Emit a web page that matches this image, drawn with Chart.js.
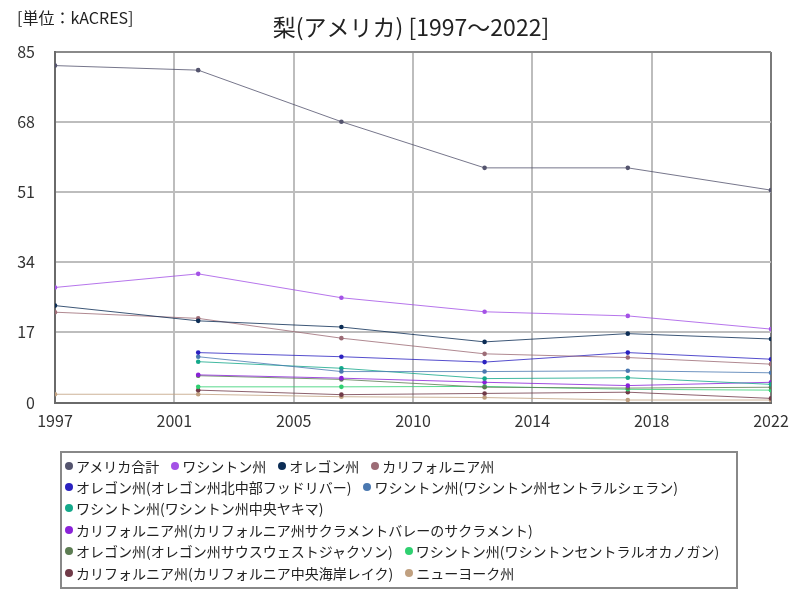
<!DOCTYPE html>
<html>
<head>
<meta charset="utf-8">
<script src="https://cdn.jsdelivr.net/npm/chart.js@4"></script>
<style>
  body { margin: 0; background: #fff; }
  #wrap { position: relative; width: 800px; height: 600px; }
  #legend {
    position: absolute; left: 60px; top: 451px; width: 678px; height: 138px;
    box-sizing: border-box; border: 2px solid #888; padding: 2px 0 0 3px;
    display: flex; flex-wrap: wrap; align-content: flex-start;
    font: 14px "Noto Sans CJK JP", sans-serif; color: #222;
  }
  .item { display: flex; align-items: center; height: 21.4px; margin-right: 12px; white-space: nowrap; }
  .dot { width: 8px; height: 8px; border-radius: 50%; margin-right: 3px; }
</style>
</head>
<body>
<div id="wrap">
  <canvas id="chart" width="800" height="600"></canvas>
  <div id="legend"></div>
</div>
<script>
const years = [1997, 2002, 2007, 2012, 2017, 2022];
const xTickLabels = ["1997", "2001", "2005", "2010", "2014", "2018", "2022"];
const yTicks = [0, 17, 34, 51, 68, 85];

const seriesNames = [
  "アメリカ合計",
  "ワシントン州",
  "オレゴン州",
  "カリフォルニア州",
  "オレゴン州(オレゴン州北中部フッドリバー)",
  "ワシントン州(ワシントン州セントラルシェラン)",
  "ワシントン州(ワシントン州中央ヤキマ)",
  "カリフォルニア州(カリフォルニア州サクラメントバレーのサクラメント)",
  "オレゴン州(オレゴン州サウスウェストジャクソン)",
  "ワシントン州(ワシントンセントラルオカノガン)",
  "カリフォルニア州(カリフォルニア中央海岸レイク)",
  "ニューヨーク州"
];

// kACRES
const usTotal    = [81.7, 80.6, 68.1, 56.9, 56.9, 51.5];
const washington = [27.9, 31.2, 25.4, 22.0, 21.0, 17.8];
const oregon     = [23.5, 19.8, 18.3, 14.7, 16.7, 15.4];
const california = [21.9, 20.4, 15.6, 11.8, 10.9, 9.3];
const hoodRiver  = [null, 12.1, 11.1, 9.8, 12.1, 10.5];
const chelan     = [null, 11.1, 7.5, 7.5, 7.7, 7.2];
const yakima     = [null, 9.9, 8.3, 5.8, 6.0, 4.4];
const sacramento = [null, 6.7, 5.9, 4.9, 4.1, 4.9];
const jackson    = [null, 6.5, 5.6, 3.7, 3.5, 3.7];
const okanogan   = [null, 3.8, 3.8, 3.9, 3.2, 3.0];
const lake       = [null, 3.0, 1.9, 2.2, 2.5, 1.0];
const newYork    = [2.0, 2.0, 1.4, 1.2, 0.6, 0.6];

const seriesValues = [usTotal, washington, oregon, california, hoodRiver, chelan,
  yakima, sacramento, jackson, okanogan, lake, newYork];
const colors = ["#54546e", "#a452e6", "#0c2d55", "#9c6c76", "#2b22c0", "#4a78b0",
  "#14a88a", "#8a22d8", "#5c7c52", "#2fd070", "#703a48", "#c0a080"];

const FONT = '"Noto Sans CJK JP", sans-serif';

const datasets = seriesNames.map((name, i) => ({
  label: name,
  data: years.map((y, j) => ({ x: y, y: seriesValues[i][j] })),
  borderColor: colors[i] + "cc",
  backgroundColor: colors[i],
  pointBackgroundColor: colors[i],
  pointBorderColor: colors[i],
  borderWidth: 1,
  pointRadius: 2.3,
  pointBorderWidth: 0,
  tension: 0
}));

const textPlugin = {
  id: "texts",
  afterDraw(chart) {
    const ctx = chart.ctx;
    ctx.save();
    ctx.fillStyle = "#222";
    ctx.textBaseline = "middle";
    ctx.font = "16px " + FONT;
    ctx.textAlign = "left";
    ctx.fillText("[単位：kACRES]", 17, 18);
    ctx.font = "23px " + FONT;
    ctx.textAlign = "center";
    ctx.fillText("梨(アメリカ) [1997～2022]", 411, 27);
    ctx.restore();
  }
};

new Chart(document.getElementById("chart"), {
  type: "line",
  data: { datasets },
  plugins: [textPlugin],
  options: {
    responsive: false,
    animation: false,
    layout: { padding: { top: 52, right: 29, bottom: 157.5, left: 0 } },
    plugins: { legend: { display: false }, tooltip: { enabled: false } },
    scales: {
      x: {
        type: "linear",
        min: 1997,
        max: 2022,
        afterBuildTicks: (scale) => {
          scale.ticks = xTickLabels.map((_, i) => ({ value: 1997 + i * 25 / (xTickLabels.length - 1) }));
        },
        afterFit: (scale) => { scale.height = 40; },
        ticks: {
          autoSkip: false, maxRotation: 0, padding: 9,
          color: "#333", font: { size: 16, family: FONT },
          callback: (v, i) => xTickLabels[i]
        },
        grid: {
          drawTicks: false, lineWidth: 2,
          color: (c) => c.index === xTickLabels.length - 1 ? "#7a7a7a" : "#bdbdbd"
        },
        border: { display: true, color: "#6a6a6a", width: 2 }
      },
      y: {
        min: 0,
        max: 85,
        afterBuildTicks: (scale) => { scale.ticks = yTicks.map(v => ({ value: v })); },
        afterFit: (scale) => { scale.width = 55; },
        ticks: {
          padding: 20, color: "#333", font: { size: 16, family: FONT }
        },
        grid: {
          drawTicks: false, lineWidth: 2,
          color: (c) => c.index === yTicks.length - 1 ? "#8a8a8a" : "#bdbdbd"
        },
        border: { display: true, color: "#6a6a6a", width: 2 }
      }
    }
  }
});

const legend = document.getElementById("legend");
seriesNames.forEach((name, i) => {
  const item = document.createElement("div");
  item.className = "item";
  const dot = document.createElement("span");
  dot.className = "dot";
  dot.style.background = colors[i];
  const label = document.createElement("span");
  label.textContent = name;
  item.appendChild(dot);
  item.appendChild(label);
  legend.appendChild(item);
});
</script>
</body>
</html>
